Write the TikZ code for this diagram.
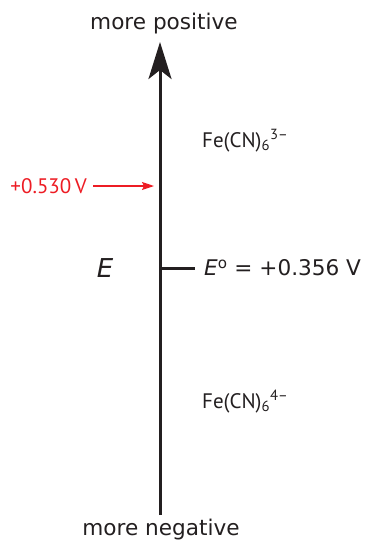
\documentclass[tikz,border=0pt]{standalone}
\usepackage{fontspec}
\setmainfont{DejaVu Sans}
\newfontfamily\labfont{PT Sans}
\usetikzlibrary{arrows.meta}
\definecolor{axisgray}{HTML}{231F20}
\definecolor{redlab}{HTML}{ED1C24}
\tikzset{
  big/.style={font=\fontsize{21.6}{26}\selectfont, text=axisgray, inner sep=0pt},
  chem/.style={font=\labfont\fontsize{21}{25}\selectfont, text=axisgray, inner sep=0pt, anchor=base west},
  axisline/.style={line width=3pt, draw=axisgray},
}
\begin{document}
\begin{tikzpicture}[x=1pt,y=-1pt]
\useasboundingbox (0,0) rectangle (365,541);
\coordinate (top) at (160,42);
\coordinate (bot) at (160,515);
\draw[axisline, -{Stealth[length=37pt,width=23pt,inset=9pt]}] (bot) -- (top);
\node[big] (pos) at (164,24) {more positive};
\node[big] (neg) at (161,530) {more negative};
\node[big, font=\fontsize{26}{30}\selectfont\itshape] (E) at (105,268) {E};
\coordinate (tickL) at (161.5,268);
\coordinate (tickR) at (195,268);
\draw[axisline] (tickL) -- (tickR);
\node[big, anchor=west] (E0) at (204,268) {\textit{E}\textsuperscript{o} = +0.356 V};
\node[chem] (ox) at (202,147) {Fe(CN)\textsubscript{6}\textsuperscript{3–}};
\node[chem] (red) at (202,408) {Fe(CN)\textsubscript{6}\textsuperscript{4–}};
\node[chem, text=redlab, anchor=base east] (pot) at (87,193) {+0.530\,V};
\coordinate (potstart) at (93,186);
\coordinate (potend) at (154,186);
\draw[redlab, line width=1.4pt, -{Stealth[length=12pt,width=8pt,inset=2pt]}] (potstart) -- (potend);
\end{tikzpicture}
\end{document}
